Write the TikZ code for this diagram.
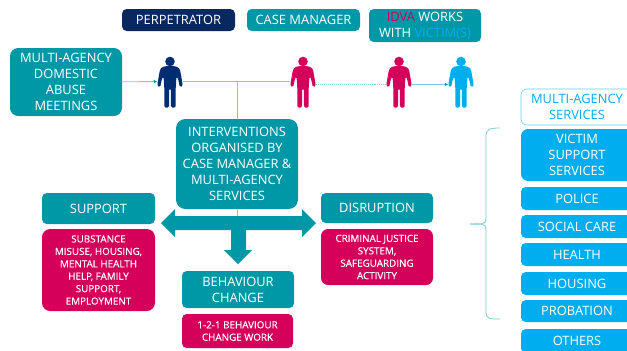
\documentclass[tikz,border=0pt]{standalone}
\usepackage{fontspec}
\setmainfont{Open Sans}
\newfontfamily\redfont[FakeBold=0.4]{Open Sans}
\usetikzlibrary{arrows.meta}
\definecolor{teal_box}{HTML}{0097A6}
\definecolor{navy_box}{HTML}{0A2860}
\definecolor{navy_man}{HTML}{002D72}
\definecolor{red_box}{HTML}{D5005A}
\definecolor{sky_box}{HTML}{00AEEF}
\definecolor{thin_line}{HTML}{7CCAD3}
\begin{document}
\begin{tikzpicture}[x=0.03cm,y=-0.03cm,
    any_box/.style={rounded corners=4pt,text=white,align=center,inner sep=0pt,font=\fontsize{11}{13.6}\selectfont},
    teal_node/.style={any_box,fill=teal_box},
    navy_node/.style={any_box,fill=navy_box},
    red_node/.style={any_box,fill=red_box,font=\redfont\fontsize{8.4}{10.6}\selectfont},
    sky_node/.style={any_box,fill=sky_box},
    sky_outline/.style={any_box,draw=sky_box!60,fill=white,text=sky_box,line width=0.5pt},
    man_spot/.style={inner sep=0pt,minimum width=25*0.03cm,minimum height=51*0.03cm},
    link_line/.style={thin_line,line width=0.7pt},
    link_arrow/.style={link_line,-{Latex[length=3pt,width=3pt,color=teal_box]}},
    big_arrow/.style={fill=teal_box},
    man/.pic={
      \fill (0,-20) circle (4.8);
      \fill[rounded corners=1.2pt] (-3,-15.5) -- (-8,-14.5) -- (-10,-12) -- (-12.5,2) -- (-12.5,5) -- (-9.8,5.5) -- (-8,-3) -- (-6.5,-5)
        -- (-5.7,6) -- (-5.7,26) -- (-1,26) -- (-0.8,7) -- (0.8,7) -- (1,26) -- (5.7,26) -- (5.7,6)
        -- (6.5,-5) -- (8,-3) -- (9.8,5.5) -- (12.5,5) -- (12.5,2) -- (10,-12) -- (8,-14.5) -- (3,-15.5) -- cycle;
    }]
  \useasboundingbox (0,0) rectangle (627,350);
  \clip (0,0) rectangle (627,350);
  % legend
  \node[navy_node,minimum width=113*0.03cm,minimum height=22*0.03cm] (perpetrator) at (178.5,20) {PERPETRATOR};
  \node[teal_node,minimum width=113*0.03cm,minimum height=22*0.03cm] (case_manager) at (303.5,20) {CASE MANAGER};
  \node[teal_node,minimum width=112*0.03cm,minimum height=33*0.03cm] (idva) at (425,25.5) {\textcolor{red_box}{IDVA} WORKS\\WITH \textcolor{sky_box}{VICTIM(S)}};
  % people
  \node[man_spot] (man_perp) at (170,81.5) {};
  \node[man_spot] (man_case) at (303,81.5) {};
  \node[man_spot] (man_idva) at (399,81.5) {};
  \node[man_spot] (man_victim) at (461,81.5) {};
  \pic[navy_man] at (man_perp) {man};
  \pic[red_box] at (man_case) {man};
  \pic[red_box] at (man_idva) {man};
  \pic[sky_box] at (man_victim) {man};
  \node[teal_node,minimum width=112*0.03cm,minimum height=68*0.03cm,rounded corners=7pt] (meetings) at (66,82) {MULTI-AGENCY\\DOMESTIC\\ABUSE\\MEETINGS};
  \node[teal_node,minimum width=122*0.03cm,minimum height=90*0.03cm,rounded corners=8pt] (interventions) at (237,164) {INTERVENTIONS\\ORGANISED BY\\CASE MANAGER \&\\MULTI-AGENCY\\SERVICES};
  \coordinate (branch) at (237,82);
  \coordinate (arrow_top) at (237,216);
  \draw[link_arrow] (meetings) -- (man_perp);
  \draw[link_line] (man_perp) -- (man_case);
  \draw[link_line] (branch) -- (interventions);
  \draw[link_line] (interventions) -- (arrow_top);
  \draw[link_line,densely dotted] ([yshift=-3*0.03cm]man_case.east) -- ([yshift=-3*0.03cm]man_idva.west);
  \draw[link_arrow] ([yshift=-3*0.03cm]man_idva.east) -- ([yshift=-3*0.03cm]man_victim.west);
  % big arrows
  \fill[big_arrow] (161,223) -- (175,209) -- (175,216) -- (302,216) -- (302,209) -- (316,223) -- (302,237) -- (302,230)
    -- (246,230) -- (246,250) -- (252,250) -- (238,264) -- (224,250) -- (231,250) -- (231,230) -- (175,230) -- (175,237) -- cycle;
  % outcomes
  \node[teal_node,minimum width=113*0.03cm,minimum height=31*0.03cm] (support) at (98.5,208.5) {SUPPORT};
  \node[red_node,minimum width=113*0.03cm,minimum height=82*0.03cm,rounded corners=7pt] (support_text) at (98.5,270) {SUBSTANCE\\MISUSE, HOUSING,\\MENTAL HEALTH\\HELP, FAMILY\\SUPPORT,\\EMPLOYMENT};
  \node[teal_node,minimum width=112*0.03cm,minimum height=37*0.03cm] (behaviour) at (238,289.5) {BEHAVIOUR\\CHANGE};
  \node[red_node,minimum width=111*0.03cm,minimum height=34*0.03cm] (behaviour_text) at (237.5,331) {1-2-1 BEHAVIOUR\\CHANGE WORK};
  \node[teal_node,minimum width=112*0.03cm,minimum height=30*0.03cm] (disruption) at (377,208) {DISRUPTION};
  \node[red_node,minimum width=112*0.03cm,minimum height=56*0.03cm,rounded corners=6pt] (disruption_text) at (377,257) {CRIMINAL JUSTICE\\SYSTEM,\\SAFEGUARDING\\ACTIVITY};
  % services
  \draw[link_line] (470,224) .. controls (480,224) and (486,226) .. (486,218) -- (486,136) .. controls (486,129) and (490,128) .. (500,128);
  \draw[link_line] (470,224) .. controls (480,224) and (486,222) .. (486,230) -- (486,312) .. controls (486,319) and (490,319) .. (500,319);
  \node[sky_outline,minimum width=112*0.03cm,minimum height=36*0.03cm,rounded corners=5pt] (services) at (577,107) {MULTI-AGENCY\\SERVICES};
  \node[sky_node,minimum width=112*0.03cm,minimum height=52*0.03cm,rounded corners=6pt] (victim_support) at (577,155) {VICTIM\\SUPPORT\\SERVICES};
  \node[sky_node,minimum width=112*0.03cm,minimum height=23*0.03cm] (police) at (577,198.5) {POLICE};
  \node[sky_node,minimum width=112*0.03cm,minimum height=23*0.03cm] (social_care) at (577,226.5) {SOCIAL CARE};
  \node[sky_node,minimum width=112*0.03cm,minimum height=23*0.03cm] (health) at (577,254.5) {HEALTH};
  \node[sky_node,minimum width=112*0.03cm,minimum height=23*0.03cm] (housing) at (577,283.5) {HOUSING};
  \node[sky_node,minimum width=112*0.03cm,minimum height=22*0.03cm] (probation) at (577,311) {PROBATION};
  \node[sky_node,minimum width=112*0.03cm,minimum height=24*0.03cm] (others) at (577,341) {OTHERS};
\end{tikzpicture}
\end{document}
